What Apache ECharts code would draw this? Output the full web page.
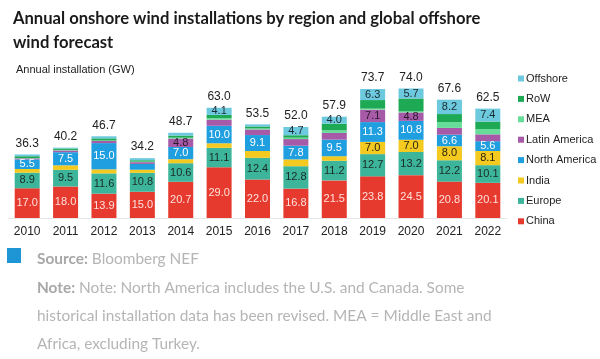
<!DOCTYPE html>
<html><head><meta charset="utf-8">
<script src="https://cdn.jsdelivr.net/npm/echarts@6/dist/echarts.min.js"></script>
<style>html,body{margin:0;padding:0;background:#fff}#c{width:600px;height:359px}</style>
</head><body><div id="c"></div>
<script>
const years = ['2010','2011','2012','2013','2014','2015','2016','2017','2018','2019','2020','2021','2022'];
const china        = [17.0,18.0,13.9,15.0,20.7,29.0,22.0,16.8,21.5,23.8,24.5,20.8,20.1];
const europe       = [8.9,9.5,11.6,10.8,10.6,11.1,12.4,12.8,11.2,12.7,13.2,12.2,10.1];
const india        = [2.1,2.6,2.3,1.8,2.3,2.6,3.9,3.9,2.6,7.0,7.0,8.0,8.1];
const northAmerica = [5.5,7.5,15.0,3.3,7.0,10.0,9.1,7.8,9.5,11.3,10.8,6.6,5.6];
const latinAmerica = [0.6,1.0,1.2,1.0,4.8,3.5,3.2,3.8,3.8,7.1,4.8,3.9,3.9];
const mea          = [0.2,0.3,0.3,0.3,0.5,0.8,0.6,0.8,1.5,0.6,0.6,3.3,3.0];
const row          = [1.0,0.8,1.2,0.8,1.2,1.9,1.1,1.4,3.8,4.9,7.4,4.6,4.3];
const offshore     = [1.0,0.5,1.2,1.2,1.6,4.1,1.2,4.7,4.0,6.3,5.7,8.2,7.4];
const totals       = [36.3,40.2,46.7,34.2,48.7,63.0,53.5,52.0,57.9,73.7,74.0,67.6,62.5];

const seriesDefs = [
  {name:'China', data:china, color:'#e63a2e', label:true, txt:'#ffe0dc'},
  {name:'Europe', data:europe, color:'#3db59a', label:true, txt:'#1a2a26'},
  {name:'India', data:india, color:'#f4c920', label:true, txt:'#2a2410'},
  {name:'North America', data:northAmerica, color:'#1f9ee0', label:true, txt:'#ffffff'},
  {name:'Latin America', data:latinAmerica, color:'#a65aa8', label:true, txt:'#2a1a2a'},
  {name:'MEA', data:mea, color:'#66dd99', label:false},
  {name:'RoW', data:row, color:'#1eaa55', label:false},
  {name:'Offshore', data:offshore, color:'#6cc9de', label:true, txt:'#1a2a30'}
];

const series = seriesDefs.map(d => ({
  name: d.name, type:'bar', stack:'all', data:d.data, barWidth:25,
  itemStyle:{color:d.color},
  label:{show:d.label, position:'inside', fontSize:11, fontFamily:'Liberation Sans', color:d.txt||'#000',
    formatter:p => p.value >= 4 ? p.value.toFixed(1) : ''}
}));
series.push({
  name:'Total', type:'bar', stack:'all', data:years.map(()=>0), barWidth:25,
  itemStyle:{color:'transparent'},
  label:{show:true, position:'top', distance:5, fontSize:12, fontFamily:'Liberation Sans', color:'#222',
    formatter:p => totals[p.dataIndex].toFixed(1)}
});

const chart = echarts.init(document.getElementById('c'));
chart.setOption({
  animation:false,
  textStyle:{fontFamily:'Liberation Sans'},
  title:{text:'Annual onshore wind installations by region and global offshore\nwind forecast',
    left:8, top:2, textStyle:{fontFamily:'Lato', fontWeight:'bold', fontSize:16.6, lineHeight:24, color:'#1a1a1a'}},
  legend:{orient:'vertical', left:513, top:68, icon:'rect', itemWidth:6, itemHeight:6, itemGap:9.4,
    data:['Offshore','RoW','MEA','Latin America','North America','India','Europe','China'],
    textStyle:{fontSize:11, fontFamily:'Liberation Sans', color:'#222', padding:[0,0,0,-3]}},
  grid:{left:8, right:93, top:78, bottom:141},
  xAxis:{type:'category', data:years, axisTick:{show:false},
    axisLine:{lineStyle:{color:'#e6e6e6'}},
    axisLabel:{fontSize:12, color:'#222', margin:8, fontFamily:'Liberation Sans'}},
  yAxis:{type:'value', min:0, max:80, interval:20, show:false},
  graphic:[
    {type:'text', left:16, top:64, style:{text:'Annual installation (GW)', font:'11px "Liberation Sans"', fill:'#222'}},
    {type:'rect', shape:{x:7, y:248, width:14, height:15}, style:{fill:'#1e96d6'}},
    {type:'text', left:37, top:252, style:{
      text:'{b|Source:} Bloomberg NEF',
      font:'15.4px Lato', fill:'#b5b5b5',
      rich:{b:{font:'bold 15.4px Lato', fill:'#a8a8a8'}}}},
    {type:'text', left:37, top:274, style:{
      text:'{b|Note:} Note: North America includes the U.S. and Canada. Some\nhistorical installation data has been revised. MEA = Middle East and\nAfrica, excluding Turkey.',
      font:'15.4px Lato', fill:'#b5b5b5', lineHeight:28,
      rich:{b:{font:'bold 15.4px Lato', fill:'#a8a8a8', lineHeight:28}}}}
  ],
  series
});
</script></body></html>
